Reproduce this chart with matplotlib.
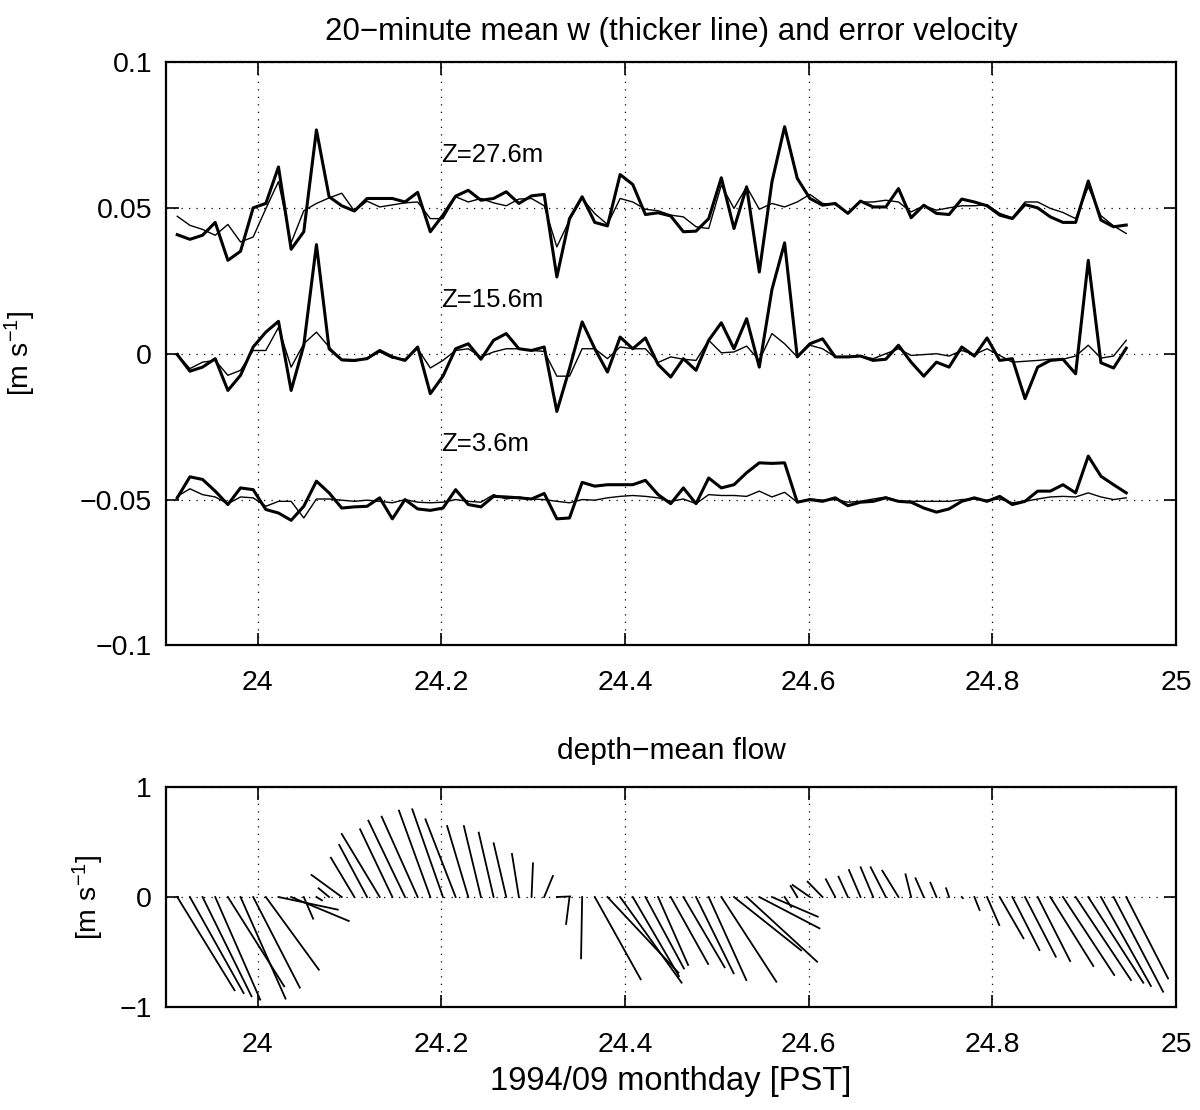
import numpy as np
import matplotlib
matplotlib.use("Agg")
import matplotlib.pyplot as plt

plt.rcParams['font.family'] = ['Liberation Sans', 'DejaVu Sans']
plt.rcParams['mathtext.fontset'] = 'custom'
plt.rcParams['mathtext.rm'] = 'Liberation Sans'
plt.rcParams['mathtext.default'] = 'regular'

# time axis: 20-minute means starting near 23.912
t0 = 23.9123
dt = 0.01378
n = 76

# 27.6 m: w (thick) and error velocity (thin), plotted with +0.05 offset
w27 = [0.0408, 0.0392, 0.0406, 0.045, 0.032, 0.0351, 0.050, 0.0515, 0.064, 0.0358,
       0.0418, 0.0767, 0.0538, 0.0507, 0.0489, 0.0532, 0.0532, 0.0532, 0.052, 0.0553,
       0.0418, 0.0475, 0.054, 0.056, 0.0526, 0.0532, 0.0555, 0.0515, 0.0541, 0.0546,
       0.0263, 0.0463, 0.0538, 0.045, 0.0438, 0.0614, 0.058, 0.0477, 0.0483, 0.0472,
       0.0418, 0.042, 0.0463, 0.0603, 0.0429, 0.0572, 0.028, 0.0589, 0.0778, 0.0601,
       0.0532, 0.0509, 0.0515, 0.0481, 0.0523, 0.0503, 0.0503, 0.0566, 0.0466, 0.0509,
       0.0481, 0.0477, 0.053, 0.052, 0.0507, 0.0475, 0.0463, 0.0511, 0.05, 0.0469,
       0.045, 0.045, 0.0592, 0.0458, 0.0435, 0.0441]
e27 = [0.0471, 0.044, 0.0426, 0.0406, 0.0443, 0.0383, 0.040, 0.0497, 0.059, 0.038,
       0.049, 0.0515, 0.0534, 0.055, 0.0489, 0.0523, 0.0503, 0.051, 0.0517, 0.052,
       0.0463, 0.0463, 0.0538, 0.052, 0.0532, 0.0517, 0.0507, 0.053, 0.0532, 0.0507,
       0.0366, 0.0458, 0.0532, 0.048, 0.0443, 0.0532, 0.052, 0.0495, 0.049, 0.0475,
       0.0469, 0.0435, 0.0429, 0.0578, 0.0498, 0.0572, 0.0495, 0.0515, 0.0503, 0.052,
       0.0546, 0.0515, 0.0511, 0.0481, 0.052, 0.052, 0.0526, 0.052, 0.0486, 0.0507,
       0.0492, 0.05, 0.0507, 0.0507, 0.0511, 0.0481, 0.0466, 0.052, 0.052, 0.0498,
       0.0484, 0.0463, 0.0572, 0.0473, 0.0438, 0.0412]

# 15.6 m (no offset)
w15 = [-0.0003, -0.006, -0.0046, -0.0017, -0.0126, -0.0074, 0.0023, 0.0074, 0.0111, -0.0126,
       0.0029, 0.0374, 0.0017, -0.0021, -0.0023, -0.0017, 0.0011, -0.0011, -0.0023, 0.0023,
       -0.0137, -0.0077, 0.0017, 0.0034, -0.0019, 0.0046, 0.0069, 0.0017, 0.0011, 0.0023,
       -0.0198, -0.0051, 0.0109, 0.0017, -0.0063, 0.0057, 0.0017, 0.0054, -0.0037, -0.008,
       -0.0017, -0.0057, 0.0046, 0.0106, 0.0017, 0.012, -0.0046, 0.022, 0.038, -0.0011,
       0.0034, 0.0051, -0.0011, -0.0011, -0.0008, -0.0023, -0.0019, 0.0029, -0.0029, -0.0077,
       -0.0029, -0.0046, 0.0023, -0.0008, 0.0054, -0.0023, -0.0017, -0.0154, -0.0046, -0.0023,
       -0.0019, -0.0069, 0.032, -0.0031, -0.0049, 0.0019]
e15 = [-0.0003, -0.0051, -0.0029, -0.0023, -0.0074, -0.0057, 0.0011, 0.0011, 0.009, -0.0046,
       0.0034, 0.0074, 0.0023, -0.0023, -0.0026, -0.0015, 0.0006, -0.0015, -0.0019, 0.0017,
       -0.0049, -0.0023, 0.0011, 0.0017, -0.0011, 0.0006, 0.0017, 0.0017, 0.0011, 0.0008,
       -0.0077, -0.0077, 0.0017, 0.0017, -0.0017, 0.0023, 0.0017, 0.0017, -0.003, -0.0011,
       -0.0019, -0.0023, 0.0046, 0.0003, 0.0006, 0.0026, -0.0023, 0.0069, 0.0034, -0.0011,
       0.0029, 0.0017, -0.0011, -0.0011, -0.0008, -0.0017, 0.0, 0.0017, -0.0006, -0.0003,
       0.0, -0.0008, 0.0011, -0.0003, 0.0017, -0.0006, -0.0029, -0.0026, -0.0023, -0.0019,
       -0.0019, -0.0008, 0.0029, -0.0015, -0.0008, 0.0046]

# 3.6 m (plotted with -0.05 offset)
w3 = [-0.0494, -0.0422, -0.0431, -0.0471, -0.0517, -0.046, -0.0466, -0.0534, -0.0546, -0.0571,
      -0.0523, -0.0437, -0.0477, -0.0529, -0.0525, -0.0523, -0.0494, -0.0566, -0.05, -0.0532,
      -0.0537, -0.0529, -0.0466, -0.0517, -0.0525, -0.0489, -0.0491, -0.0494, -0.0498, -0.0479,
      -0.0566, -0.0563, -0.0441, -0.0454, -0.0449, -0.0449, -0.0449, -0.0434, -0.0483, -0.0514,
      -0.046, -0.0514, -0.0426, -0.046, -0.0449, -0.0408, -0.0374, -0.0376, -0.0374, -0.0509,
      -0.05, -0.0506, -0.0494, -0.0521, -0.0509, -0.0506, -0.0494, -0.0506, -0.0509, -0.0529,
      -0.0543, -0.0532, -0.0506, -0.0494, -0.0506, -0.0489, -0.0517, -0.0506, -0.0471, -0.0471,
      -0.0449, -0.0477, -0.0351, -0.042, -0.0449, -0.0477]
e3 = [-0.0489, -0.0463, -0.0483, -0.0491, -0.0514, -0.0491, -0.0494, -0.0523, -0.0506, -0.0506,
      -0.0563, -0.0498, -0.0498, -0.0502, -0.0506, -0.0502, -0.0506, -0.0511, -0.05, -0.0509,
      -0.0511, -0.0509, -0.05, -0.0506, -0.0509, -0.0483, -0.0498, -0.0491, -0.0498, -0.05,
      -0.0506, -0.0511, -0.05, -0.0502, -0.0494, -0.0489, -0.0486, -0.0489, -0.0494, -0.0506,
      -0.0498, -0.0514, -0.0483, -0.0486, -0.0486, -0.0489, -0.0471, -0.0491, -0.0475, -0.0509,
      -0.0498, -0.0502, -0.05, -0.0509, -0.0506, -0.0498, -0.0491, -0.0506, -0.0506, -0.0506,
      -0.0506, -0.0506, -0.05, -0.0498, -0.0502, -0.0498, -0.0511, -0.0506, -0.0498, -0.0491,
      -0.0489, -0.0491, -0.0477, -0.0491, -0.05, -0.0494]

# depth-mean flow components [m/s]
u = [0.521, 0.488, 0.445, 0.409, 0.512, 0.409, 0.424, 0.482, 0.539, 0.524,
     0.085, 0.05, -0.095, -0.274, -0.214, -0.253, -0.345, -0.293, -0.333, -0.327,
     -0.285, -0.279, -0.274, -0.192, -0.155, -0.135, -0.114, -0.063, 0.013, 0.079,
     0.121, -0.031, -0.01, 0.417, 0.645, 0.559, 0.42, 0.35, 0.273, 0.34,
     0.375, 0.342, 0.342, 0.5, 0.61, 0.64, 0.547, 0.416, 0.06, -0.06,
     -0.157, -0.136, -0.085, -0.085, -0.105, -0.114, -0.138, -0.147, -0.051, -0.075,
     -0.055, -0.027, 0.01, 0.047, 0.111, 0.216, 0.246, 0.28, 0.295, 0.391,
     0.466, 0.503, 0.5, 0.454, 0.45, 0.38]
v = [-0.848, -0.873, -0.903, -0.933, -0.812, -0.924, -0.824, -0.661, -0.115, -0.218,
     -0.197, -0.03, 0.079, 0.2, 0.357, 0.473, 0.573, 0.615, 0.694, 0.73,
     0.785, 0.797, 0.706, 0.645, 0.645, 0.585, 0.488, 0.391, 0.306, 0.191,
     0.005, -0.245, -0.557, -0.748, -0.688, -0.779, -0.72, -0.65, -0.618, -0.609,
     -0.639, -0.694, -0.755, -0.77, -0.485, -0.588, -0.285, -0.179, -0.09, 0.1,
     0.109, 0.139, 0.161, 0.185, 0.245, 0.27, 0.27, 0.239, 0.206, 0.17,
     0.13, 0.079, -0.01, -0.118, -0.255, -0.375, -0.482, -0.543, -0.582, -0.627,
     -0.709, -0.755, -0.779, -0.809, -0.861, -0.74]

labels = ['Z=27.6m', 'Z=15.6m', 'Z=3.6m']
label_y = [0.068, 0.0185, -0.031]

t = t0 + dt * np.arange(n)

fig = plt.figure(figsize=(12, 11.1), dpi=100)
ax1 = fig.add_axes([0.1383, 0.4185, 0.8417, 0.5257])
ax2 = fig.add_axes([0.1383, 0.0928, 0.8417, 0.1982])

grid_style = dict(color='k', linestyle=(0, (1, 5)), linewidth=0.9)
tick_fs = 20.5

# upper panel: w (thick) and error velocity (thin)
for w, e in [(w27, e27), (w15, e15), (w3, e3)]:
    ax1.plot(t, e, color='k', lw=1.0)
    ax1.plot(t, w, color='k', lw=2.2)
for lab, ly in zip(labels, label_y):
    ax1.text(24.2, ly, lab, fontsize=18.5, va='center', ha='left')

ax1.set_xlim(23.9, 25)
ax1.set_ylim(-0.1, 0.1)
ax1.set_yticks([-0.1, -0.05, 0, 0.05, 0.1])
ax1.set_yticklabels(['\u22120.1', '\u22120.05', '0', '0.05', '0.1'])
ax1.set_xticks([24, 24.2, 24.4, 24.6, 24.8, 25])
ax1.set_xticklabels(['24', '24.2', '24.4', '24.6', '24.8', '25'])
ax1.set_ylabel('[m s$^{-1}$]', fontsize=20.5, labelpad=30)
ax1.set_title('20\u2212minute mean w (thicker line) and error velocity', fontsize=22.5, pad=16)
ax1.grid(True, **grid_style)

# lower panel: stick plot of depth-mean flow
ax2.set_xlim(23.9, 25)
ax2.set_ylim(-1, 1)
fig.canvas.draw()
bb = ax2.get_window_extent()
# days per (m/s) so that sticks keep true direction on screen
xscale = (1.1 / bb.width) * (bb.height / 2.0)
for ti, ui, vi in zip(t, u, v):
    ax2.plot([ti, ti + ui * xscale], [0, vi], color='k', lw=1.3)
ax2.set_yticks([-1, 0, 1])
ax2.set_yticklabels(['\u22121', '0', '1'])
ax2.set_xticks([24, 24.2, 24.4, 24.6, 24.8, 25])
ax2.set_xticklabels(['24', '24.2', '24.4', '24.6', '24.8', '25'])
ax2.set_ylabel('[m s$^{-1}$]', fontsize=20.5, labelpad=10)
ax2.set_xlabel('1994/09 monthday [PST]', fontsize=23.5, labelpad=6)
ax2.set_title('depth\u2212mean flow', fontsize=21.5, pad=20)
ax2.grid(True, **grid_style)

for ax in (ax1, ax2):
    ax.tick_params(direction='in', top=True, right=True, length=9, width=1.2,
                   labelsize=tick_fs)
    ax.tick_params(axis='x', pad=18)
    ax.tick_params(axis='y', pad=10)
    for sp in ax.spines.values():
        sp.set_linewidth(1.6)
    ax.set_axisbelow(True)

fig.savefig('out.png', dpi=100)
